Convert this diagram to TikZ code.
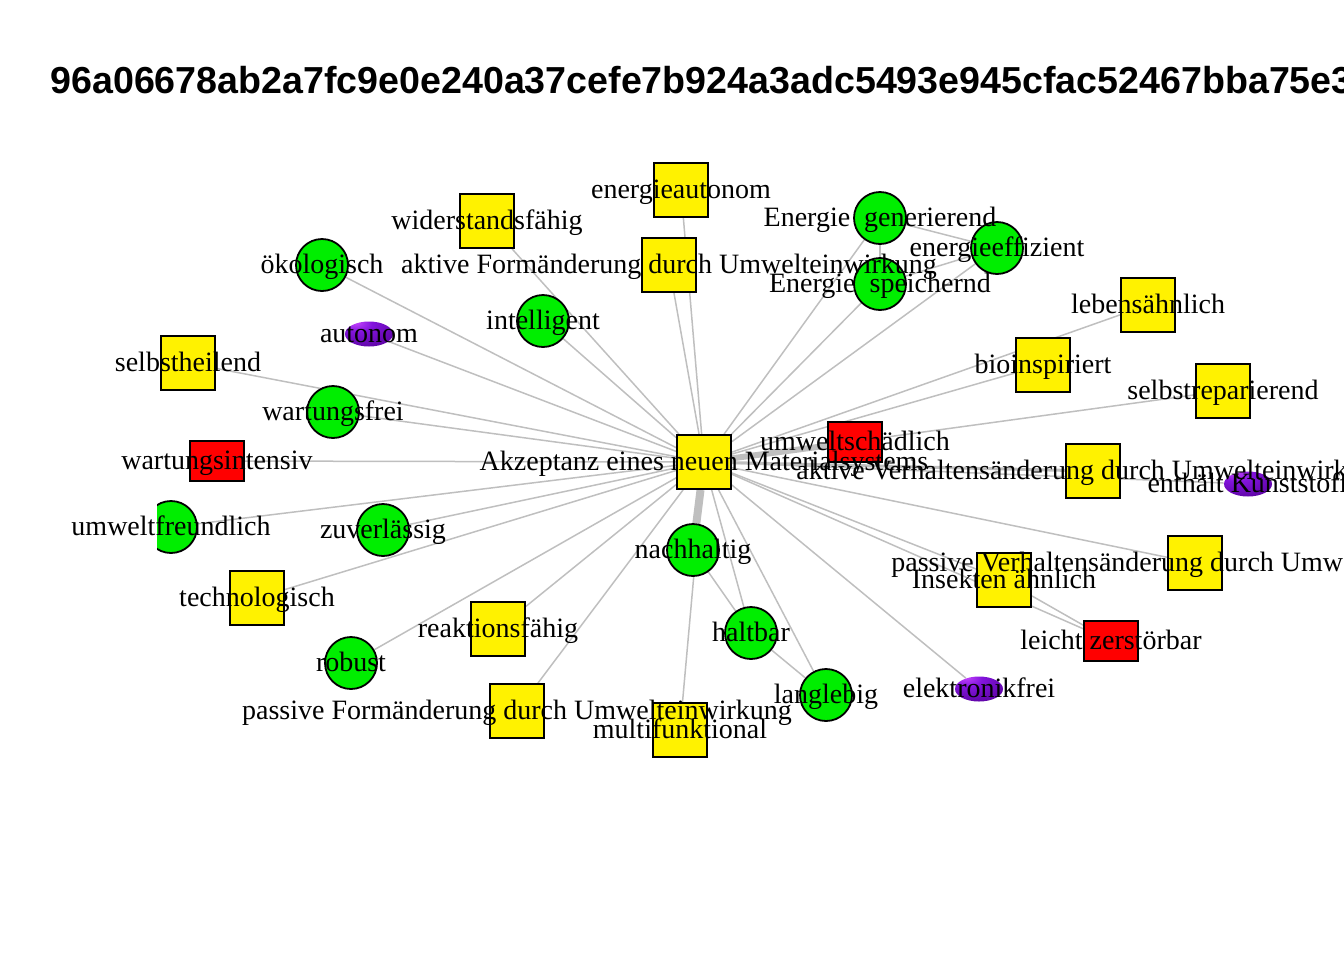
\documentclass[tikz,border=0pt]{standalone}
\usepackage{fontspec}
\setmainfont{Liberation Serif}
\newfontfamily\titlefont{Liberation Sans}
\usetikzlibrary{shapes.geometric}
\definecolor{vgreen}{RGB}{0,238,0}
\definecolor{lblcol}{RGB}{0,0,0}
\definecolor{plight}{RGB}{200,70,255}
\definecolor{pmid}{RGB}{130,20,220}
\definecolor{pdark}{RGB}{85,0,150}
\pgfdeclareradialshading{pball}{\pgfpoint{-15bp}{25bp}}{color(0bp)=(plight); color(15bp)=(pmid); color(45bp)=(pdark); color(70bp)=(pdark)}
\pgfdeclarelayer{edges}
\pgfsetlayers{edges,main}
\tikzstyle{sq}=[rectangle,draw,line width=0.9pt,fill=yellow,minimum size=27pt,inner sep=0pt]
\tikzstyle{rd}=[rectangle,draw,line width=0.9pt,fill=red,minimum width=27pt,minimum height=20pt,inner sep=0pt]
\tikzstyle{gr}=[circle,draw,line width=0.9pt,fill=vgreen,minimum size=26pt,inner sep=0pt]
\tikzstyle{sph}=[ellipse,shade,shading=pball,minimum width=24pt,minimum height=12.5pt,inner sep=0pt]
\tikzstyle{lbl}=[inner sep=0pt,text height=11pt,text depth=3pt,font=\fontsize{14}{16}\selectfont,text=lblcol]
\tikzstyle{edge}=[draw,gray!50,line width=0.75pt]

\begin{document}
\begin{tikzpicture}[x=0.5pt,y=-0.5pt]
\path[use as bounding box,clip] (0,0) rectangle (1344,960);

\node[anchor=base west,inner sep=0pt,font=\titlefont\bfseries\fontsize{18.8}{20}\selectfont] (title) at (50,93) {96a06678ab2a7fc9e0e240a37cefe7b924a3adc5493e945cfac52467bba75e3};

% vertices
\node[sq] (akz) at (704,462) {};
\node[rd] (umw) at (855,442) {};
\node[sq] (avu) at (1093,471) {};
\node[sph] (kst) at (1248,484) {};
\node[sq] (pvu) at (1195,563) {};
\node[sq] (ins) at (1004,580) {};
\node[rd] (lzb) at (1111,641) {};
\node[sph] (elf) at (979,689) {};
\node[gr] (lgb) at (826,695) {};
\node[gr] (hlt) at (751,633) {};
\node[gr] (nhl) at (693,550) {};
\node[sq] (mfk) at (680,730) {};
\node[sq] (pfu) at (517,711) {};
\node[sq] (rkf) at (498,629) {};
\node[gr] (rob) at (351,663) {};
\node[sq] (tec) at (257,598) {};
\begin{scope}
\clip (157,480) rectangle (230,575);
\node[gr] (uwf) at (171,527) {};
\end{scope}
\node[gr] (zuv) at (383,530) {};
\node[rd] (wti) at (217,461) {};
\node[gr] (wfr) at (333,412) {};
\node[sq] (shl) at (188,363) {};
\node[sph] (aut) at (369,334) {};
\node[gr] (oek) at (322,265) {};
\node[sq] (wdf) at (487,221) {};
\node[gr] (int) at (543,321) {};
\node[sq] (afu) at (669,265) {};
\node[sq] (eau) at (681,190) {};
\node[gr] (egn) at (880,218) {};
\node[gr] (eef) at (997,248) {};
\node[gr] (esp) at (880,284) {};
\node[sq] (leb) at (1148,305) {};
\node[sq] (bio) at (1043,365) {};
\node[sq] (srp) at (1223,391) {};

% edges
\begin{pgfonlayer}{edges}
\draw[edge,line width=4pt] (akz) -- (nhl);
\draw[edge,line width=3pt] (akz) -- (umw);
\draw[edge,line width=1.5pt] (akz) -- (avu);
\draw[edge] (akz) -- (kst);
\draw[edge] (akz) -- (pvu);
\draw[edge] (akz) -- (ins);
\draw[edge] (akz) -- (lzb);
\draw[edge] (akz) -- (elf);
\draw[edge] (akz) -- (lgb);
\draw[edge] (akz) -- (hlt);
\draw[edge] (akz) -- (mfk);
\draw[edge] (akz) -- (pfu);
\draw[edge] (akz) -- (rkf);
\draw[edge] (akz) -- (rob);
\draw[edge] (akz) -- (tec);
\draw[edge] (akz) -- (uwf);
\draw[edge] (akz) -- (zuv);
\draw[edge] (akz) -- (wti);
\draw[edge] (akz) -- (wfr);
\draw[edge] (akz) -- (shl);
\draw[edge] (akz) -- (aut);
\draw[edge] (akz) -- (oek);
\draw[edge] (akz) -- (wdf);
\draw[edge] (akz) -- (int);
\draw[edge] (akz) -- (afu);
\draw[edge] (akz) -- (eau);
\draw[edge] (akz) -- (egn);
\draw[edge] (akz) -- (eef);
\draw[edge] (akz) -- (esp);
\draw[edge] (akz) -- (leb);
\draw[edge] (akz) -- (bio);
\draw[edge] (akz) -- (srp);
\draw[edge] (nhl) -- (hlt);
\draw[edge] (hlt) -- (lgb);
\draw[edge] (ins) -- (lzb);
\draw[edge] (egn) -- (eef);
\draw[edge] (eef) -- (esp);
\draw[edge] (egn) -- (esp);
\end{pgfonlayer}

% labels
\node[lbl] (akz-t) at (akz) {Akzeptanz eines neuen Materialsystems};
\node[lbl] (umw-t) at (umw) {umweltschädlich};
\node[lbl] (avu-t) at (avu) {aktive Verhaltensänderung durch Umwelteinwirkung};
\node[lbl] (kst-t) at (kst) {enthält Kunststoff};
\node[lbl] (pvu-t) at (pvu) {passive Verhaltensänderung durch Umwelteinwirkung};
\node[lbl] (ins-t) at (ins) {Insekten ähnlich};
\node[lbl] (lzb-t) at (lzb) {leicht zerstörbar};
\node[lbl] (elf-t) at (elf) {elektronikfrei};
\node[lbl] (lgb-t) at (lgb) {langlebig};
\node[lbl] (hlt-t) at (hlt) {haltbar};
\node[lbl] (nhl-t) at (nhl) {nachhaltig};
\node[lbl] (mfk-t) at (mfk) {multifunktional};
\node[lbl] (pfu-t) at (pfu) {passive Formänderung durch Umwelteinwirkung};
\node[lbl] (rkf-t) at (rkf) {reaktionsfähig};
\node[lbl] (rob-t) at (rob) {robust};
\node[lbl] (tec-t) at (tec) {technologisch};
\node[lbl] (uwf-t) at (uwf) {umweltfreundlich};
\node[lbl] (zuv-t) at (zuv) {zuverlässig};
\node[lbl] (wti-t) at (wti) {wartungsintensiv};
\node[lbl] (wfr-t) at (wfr) {wartungsfrei};
\node[lbl] (shl-t) at (shl) {selbstheilend};
\node[lbl] (aut-t) at (aut) {autonom};
\node[lbl] (oek-t) at (oek) {ökologisch};
\node[lbl] (wdf-t) at (wdf) {widerstandsfähig};
\node[lbl] (int-t) at (int) {intelligent};
\node[lbl] (afu-t) at (afu) {aktive Formänderung durch Umwelteinwirkung};
\node[lbl] (eau-t) at (eau) {energieautonom};
\node[lbl] (egn-t) at (egn) {Energie~ generierend};
\node[lbl] (eef-t) at (eef) {energieeffizient};
\node[lbl] (esp-t) at (esp) {Energie~ speichernd};
\node[lbl] (leb-t) at (leb) {lebensähnlich};
\node[lbl] (bio-t) at (bio) {bioinspiriert};
\node[lbl] (srp-t) at (srp) {selbstreparierend};
\end{tikzpicture}
\end{document}
